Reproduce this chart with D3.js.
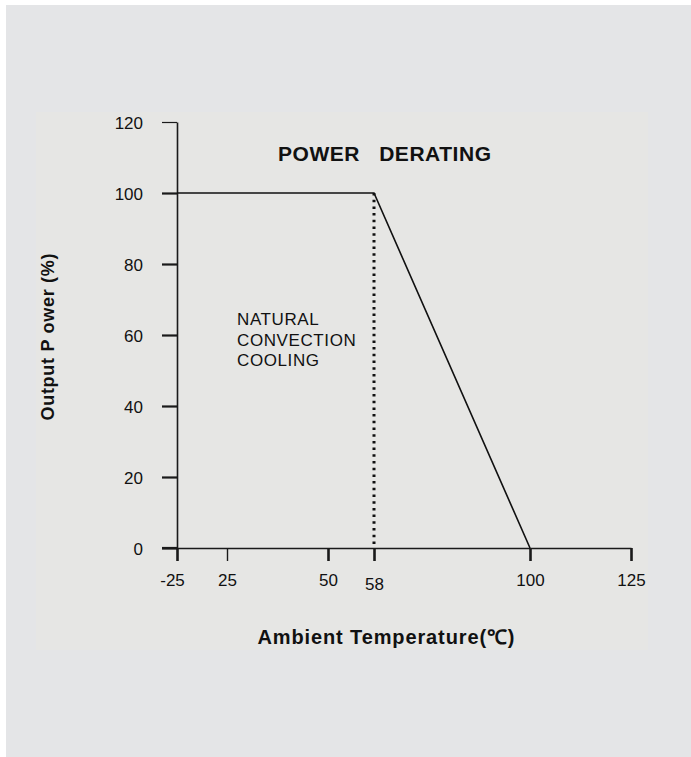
<!DOCTYPE html>
<html>
<head>
<meta charset="utf-8">
<script src="https://cdn.jsdelivr.net/npm/d3@7"></script>
<style>
  body { margin: 0; background: #fff; }
  text { font-family: Arial, "Liberation Sans", sans-serif; fill: #111; }
</style>
</head>
<body>
<div id="chart"></div>
<script>
// data
var xTicks = [-25, 25, 50, 58, 100, 125];
var yTicks = [0, 20, 40, 60, 80, 100, 120];
var deratingTemp = [-25, 58, 100];
var deratingPower = [100, 100, 0];
var convectionLimit = [58, 58];
var convectionPower = [100, 0];
var noteLines = ["NATURAL", "CONVECTION", "COOLING"];
var titleText = "POWER   DERATING";
var xTitle = "Ambient Temperature(\u2103)";
var yTitle = "Output P ower (%)";

var width = 691, height = 757;

var svg = d3.select("#chart")
  .append("svg")
  .attr("width", width)
  .attr("height", height);

svg.append("rect")
  .attr("x", 6).attr("y", 5)
  .attr("width", width - 6).attr("height", height - 5)
  .attr("fill", "#e4e5e7");

svg.append("rect")
  .attr("x", 36).attr("y", 112)
  .attr("width", 612).attr("height", 538)
  .attr("fill", "#e6e6e4");

// the x axis in the original is not to scale, so map each tick to its own spot
var x = d3.scaleLinear()
  .domain(xTicks)
  .range([177, 227, 328, 374, 530, 631]);

var y = d3.scaleLinear()
  .domain([0, 120])
  .range([548, 122]);

var yAxis = svg.append("g")
  .attr("transform", "translate(" + x(-25) + ",0)")
  .call(d3.axisLeft(y).tickValues(yTicks).tickSize(15).tickSizeOuter(0).tickPadding(19));

yAxis.select(".domain").attr("stroke", "#1a1a1a").attr("stroke-width", 1.6);
yAxis.selectAll(".tick line").attr("stroke", "#1a1a1a")
  .attr("stroke-width", function(d) { return d === 120 ? 1.2 : 2.2; });
yAxis.selectAll(".tick text")
  .attr("font-size", 17)
  .attr("dy", "0.4em");

var xAxis = svg.append("g")
  .attr("transform", "translate(0," + y(0) + ")")
  .call(d3.axisBottom(x).tickValues(xTicks).tickSize(13).tickSizeOuter(0).tickPadding(12)
    .tickFormat(function(d) { return String(d); }));

xAxis.select(".domain").attr("stroke", "#1a1a1a").attr("stroke-width", 1.6);
xAxis.selectAll(".tick line").attr("stroke", "#1a1a1a")
  .attr("stroke-width", function(d) { return d === 25 ? 1.4 : 2.6; });
xAxis.selectAll(".tick text")
  .attr("font-size", 17)
  .attr("dx", function(d) { return d === -25 ? -5 : 0; })
  .attr("dy", function(d) { return d === 58 ? "1.0em" : "0.75em"; });

// y axis 0 tick runs along the x axis to the left
svg.append("line")
  .attr("x1", x(-25) - 15).attr("x2", x(-25))
  .attr("y1", y(0)).attr("y2", y(0))
  .attr("stroke", "#1a1a1a").attr("stroke-width", 2.2);

var line = d3.line()
  .x(function(d) { return x(d[0]); })
  .y(function(d) { return y(d[1]); });

svg.append("path")
  .datum(d3.zip(deratingTemp, deratingPower))
  .attr("d", line)
  .attr("fill", "none")
  .attr("stroke", "#111")
  .attr("stroke-width", 1.6);

svg.append("path")
  .datum(d3.zip(convectionLimit, convectionPower))
  .attr("d", line)
  .attr("fill", "none")
  .attr("stroke", "#111")
  .attr("stroke-width", 3)
  .attr("stroke-dasharray", "2.5,4.2");

svg.append("text")
  .attr("x", 278).attr("y", 161)
  .attr("font-size", 21)
  .attr("font-weight", "bold")
  .style("white-space", "pre")
  .attr("textLength", 213)
  .text(titleText);

svg.append("g")
  .selectAll("text")
  .data(noteLines)
  .join("text")
  .attr("x", 237)
  .attr("y", function(d, i) { return 325 + i * 20.5; })
  .attr("font-size", 17)
  .attr("letter-spacing", 0.6)
  .text(function(d) { return d; });

svg.append("text")
  .attr("x", 386).attr("y", 644)
  .attr("text-anchor", "middle")
  .attr("font-size", 20)
  .attr("font-weight", "bold")
  .attr("textLength", 257)
  .text(xTitle);

svg.append("text")
  .attr("transform", "translate(54,337) rotate(-90)")
  .attr("text-anchor", "middle")
  .attr("font-size", 18)
  .attr("font-weight", "bold")
  .attr("textLength", 167)
  .style("white-space", "pre")
  .text(yTitle);
</script>
</body>
</html>
